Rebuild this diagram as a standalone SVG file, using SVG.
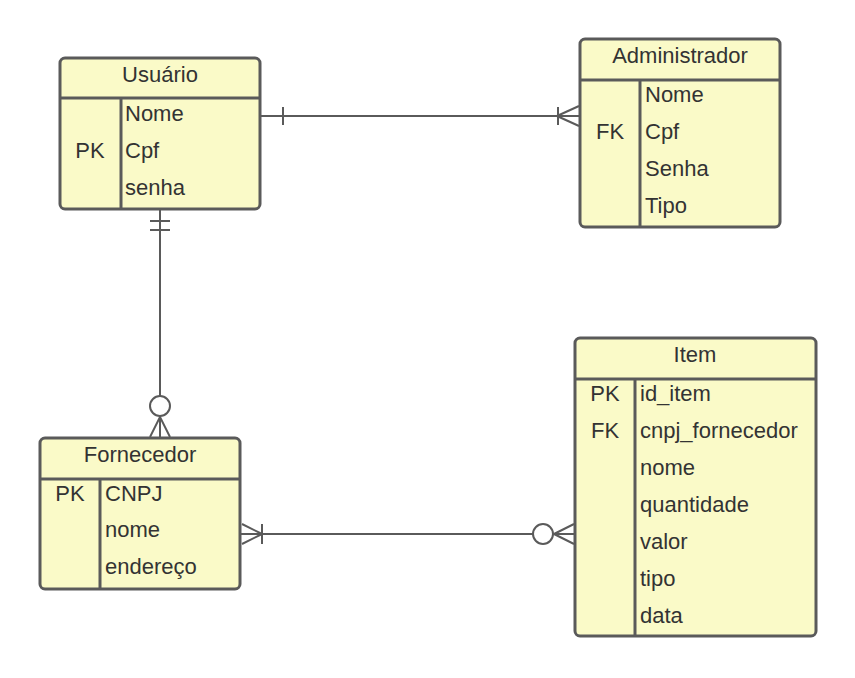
<svg xmlns="http://www.w3.org/2000/svg" width="855" height="678" viewBox="0 0 855 678">
<style>
.box{fill:#fafac8;stroke:#5a5a5a;stroke-width:3}
.div{stroke:#5a5a5a;stroke-width:3;fill:none}
.ln{stroke:#5a5a5a;stroke-width:2;fill:none}
.circ{stroke:#5a5a5a;stroke-width:2;fill:#ffffff}
text{font-family:"Liberation Sans",Arial,sans-serif;font-size:22px;fill:#333333}
.c{text-anchor:middle}
</style>
<rect width="855" height="678" fill="#ffffff"/>
<g id="connectors">
<line class="ln" x1="261" y1="116" x2="580" y2="116"/>
<line class="ln" x1="283" y1="107" x2="283" y2="125"/>
<line class="ln" x1="558" y1="107" x2="558" y2="125"/>
<line class="ln" x1="557" y1="116" x2="579" y2="106"/>
<line class="ln" x1="557" y1="116" x2="579" y2="126"/>
<line class="ln" x1="160" y1="209" x2="160" y2="396"/>
<line class="ln" x1="150" y1="221" x2="170" y2="221"/>
<line class="ln" x1="150" y1="230" x2="170" y2="230"/>
<circle class="circ" cx="160" cy="406" r="10"/>
<line class="ln" x1="160" y1="416" x2="160" y2="438"/>
<line class="ln" x1="160" y1="417" x2="150" y2="437"/>
<line class="ln" x1="160" y1="417" x2="170" y2="437"/>
<line class="ln" x1="241" y1="534" x2="533" y2="534"/>
<line class="ln" x1="262" y1="524" x2="262" y2="544"/>
<line class="ln" x1="262" y1="534" x2="242" y2="524"/>
<line class="ln" x1="262" y1="534" x2="242" y2="544"/>
<circle class="circ" cx="543" cy="534" r="10"/>
<line class="ln" x1="553" y1="534" x2="575" y2="534"/>
<line class="ln" x1="554" y1="534" x2="574" y2="524"/>
<line class="ln" x1="554" y1="534" x2="574" y2="544"/>
</g>
<g id="usuario">
<rect class="box" x="60" y="58" width="200" height="151" rx="5"/>
<line class="div" x1="60" y1="98" x2="260" y2="98"/>
<line class="div" x1="121" y1="98" x2="121" y2="209"/>
<text class="c" x="160" y="82">Usuário</text>
<text class="c" x="90" y="158">PK</text>
<text x="125" y="121">Nome</text>
<text x="125" y="158">Cpf</text>
<text x="125" y="195">senha</text>
</g>
<g id="administrador">
<rect class="box" x="580" y="39" width="200" height="188" rx="5"/>
<line class="div" x1="580" y1="80" x2="780" y2="80"/>
<line class="div" x1="640" y1="80" x2="640" y2="227"/>
<text class="c" x="680" y="63">Administrador</text>
<text class="c" x="610" y="139">FK</text>
<text x="645" y="102">Nome</text>
<text x="645" y="139">Cpf</text>
<text x="645" y="176">Senha</text>
<text x="645" y="213">Tipo</text>
</g>
<g id="fornecedor">
<rect class="box" x="40" y="438" width="200" height="151" rx="5"/>
<line class="div" x1="40" y1="479" x2="240" y2="479"/>
<line class="div" x1="100" y1="479" x2="100" y2="589"/>
<text class="c" x="140" y="462">Fornecedor</text>
<text class="c" x="70" y="501">PK</text>
<text x="105" y="501">CNPJ</text>
<text x="105" y="537">nome</text>
<text x="105" y="574">endereço</text>
</g>
<g id="item">
<rect class="box" x="575" y="338" width="241" height="298" rx="5"/>
<line class="div" x1="575" y1="379" x2="816" y2="379"/>
<line class="div" x1="635" y1="379" x2="635" y2="636"/>
<text class="c" x="695" y="362">Item</text>
<text class="c" x="605" y="401">PK</text>
<text class="c" x="605" y="438">FK</text>
<text x="640" y="401">id_item</text>
<text x="640" y="438">cnpj_fornecedor</text>
<text x="640" y="475">nome</text>
<text x="640" y="512">quantidade</text>
<text x="640" y="549">valor</text>
<text x="640" y="586">tipo</text>
<text x="640" y="623">data</text>
</g>
</svg>
